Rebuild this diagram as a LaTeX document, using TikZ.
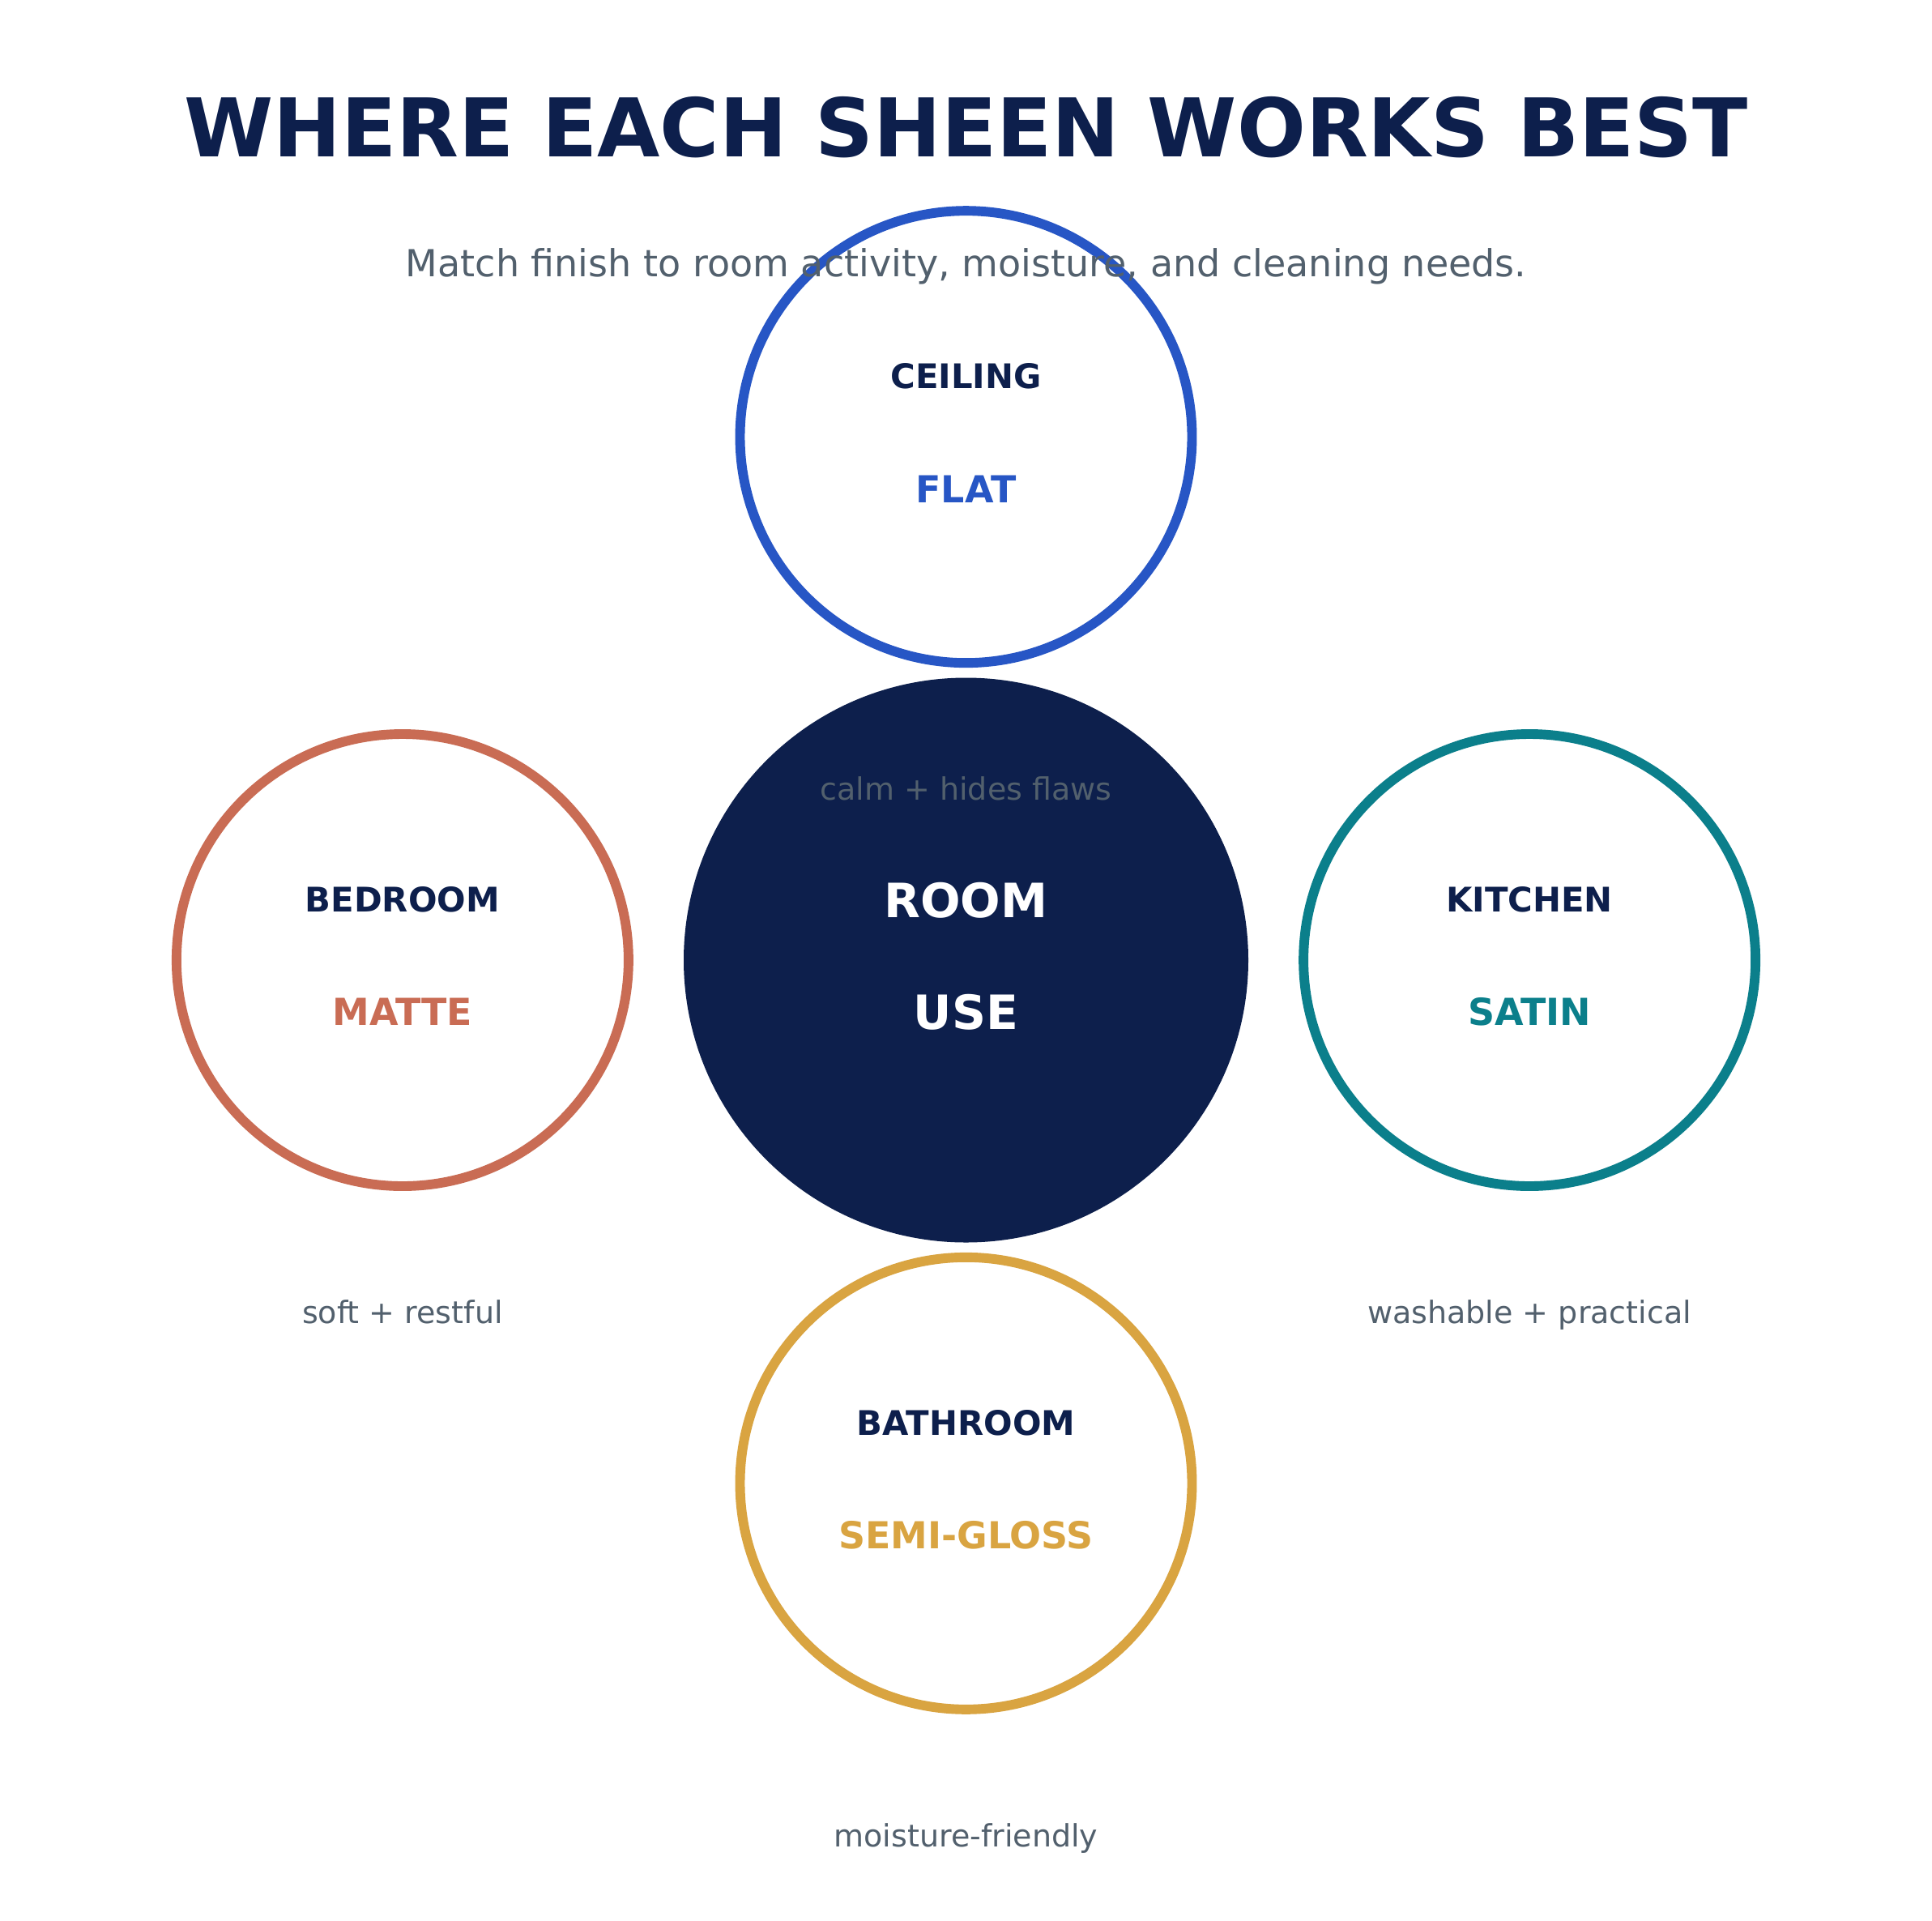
\documentclass[tikz,border=0pt]{standalone}
\usepackage{fontspec}
\setmainfont{DejaVu Sans}
\definecolor{navy}{HTML}{0D1F4C}
\definecolor{cblue}{HTML}{2756C5}
\definecolor{crust}{HTML}{C96C54}
\definecolor{cteal}{HTML}{0B7F8B}
\definecolor{cgold}{HTML}{D9A441}
\definecolor{slate}{HTML}{52606D}
\tikzset{
  ring/.style={circle, draw=#1, line width=11.9pt, minimum size=558pt, inner sep=0pt, fill=white},
  hub/.style={circle, fill=navy, minimum size=697pt, inner sep=0pt},
  lbl/.style={anchor=base, inner sep=0pt, text=navy, font=\bfseries\fontsize{41.8pt}{48pt}\selectfont},
  val/.style={anchor=base, inner sep=0pt, text=#1, font=\bfseries\fontsize{45.9pt}{52pt}\selectfont},
  hubtxt/.style={anchor=base, inner sep=0pt, text=white, font=\bfseries\fontsize{58.3pt}{64pt}\selectfont},
  desc/.style={anchor=base, inner sep=0pt, text=slate, font=\fontsize{38pt}{44pt}\selectfont},
}
\begin{document}
\begin{tikzpicture}[x=1.9875pt,y=-1.975pt]
\useasboundingbox (0,0) rectangle (1200,1200);
\fill[white] (0,0) rectangle (1200,1200);
\node[anchor=base, inner sep=0pt, text=navy, font=\bfseries\fontsize{99.9pt}{110pt}\selectfont] (title) at (600,98) {WHERE EACH SHEEN WORKS BEST};
% hub
\node[hub] (hub) at (600,600) {};
\node[hubtxt] (hubA) at (600,573.5) {ROOM};
\node[hubtxt] (hubB) at (600,643.5) {USE};
% ceiling
\node[ring=cblue] (ceiling) at (600,273) {};
\node[lbl] (ceilingL) at (600,243) {CEILING};
\node[val=cblue] (ceilingV) at (600,314) {FLAT};
\node[desc] (ceilingD) at (600,500) {calm + hides flaws};
% bedroom
\node[ring=crust] (bedroom) at (250,600) {};
\node[lbl] (bedroomL) at (250,570) {BEDROOM};
\node[val=crust] (bedroomV) at (250,641) {MATTE};
\node[desc] (bedroomD) at (250,827) {soft + restful};
% kitchen
\node[ring=cteal] (kitchen) at (950,600) {};
\node[lbl] (kitchenL) at (950,570) {KITCHEN};
\node[val=cteal] (kitchenV) at (950,641) {SATIN};
\node[desc] (kitchenD) at (950,827) {washable + practical};
% bathroom
\node[ring=cgold] (bathroom) at (600,927) {};
\node[lbl] (bathroomL) at (600,897) {BATHROOM};
\node[val=cgold] (bathroomV) at (600,968) {SEMI-GLOSS};
\node[desc] (bathroomD) at (600,1154) {moisture-friendly};
% subtitle on top
\node[anchor=base, inner sep=0pt, text=slate, font=\fontsize{46pt}{52pt}\selectfont] (subtitle) at (600,173) {Match finish to room activity, moisture, and cleaning needs.};
\end{tikzpicture}
\end{document}
